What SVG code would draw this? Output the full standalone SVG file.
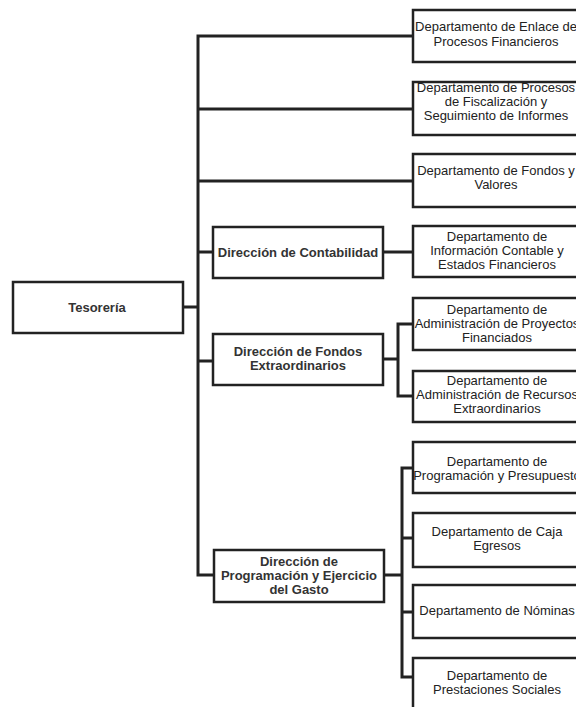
<svg xmlns="http://www.w3.org/2000/svg" width="576" height="707" viewBox="0 0 576 707">
<style>
.box{fill:#fff;stroke:#222;stroke-width:2.5}
.ln{fill:none;stroke:#222;stroke-width:3;stroke-linejoin:miter;stroke-linecap:square}
.t{font-family:"Liberation Sans",Arial,sans-serif;font-size:13px;fill:#222;text-anchor:middle}
.b{font-family:"Liberation Sans",Arial,sans-serif;font-size:13px;font-weight:bold;fill:#333;text-anchor:middle}
</style>
<rect width="576" height="707" fill="#fff"/>
<g id="connectors">
<path class="ln" d="M183 307H198M198 36V575M198 36H413M198 109H413M198 181H413M198 252H213M198 361H213M198 575H214"/>
<path class="ln" d="M382 252H413"/>
<path class="ln" d="M383 359H398M398 324V396M398 324H413M398 396H413"/>
<path class="ln" d="M384 575H402M402 468V677M402 468H413M402 538H413M402 612H413M402 677H413"/>
</g>
<g id="tesoreria"><rect class="box" x="13" y="282" width="170" height="51"/><text class="b" x="97" y="311.5">Tesorería</text></g>
<g id="dir-contabilidad"><rect class="box" x="213" y="227" width="170" height="51"/><text class="b" x="298" y="256.5">Dirección de Contabilidad</text></g>
<g id="dir-fondos"><rect class="box" x="213" y="334" width="170" height="51"/><text class="b" x="298" y="356">Dirección de Fondos</text><text class="b" x="298" y="370">Extraordinarios</text></g>
<g id="dir-programacion"><rect class="box" x="214" y="550" width="170" height="52"/><text class="b" x="299" y="566">Dirección de</text><text class="b" x="299" y="580">Programación y Ejercicio</text><text class="b" x="299" y="594">del Gasto</text></g>
<g id="d-enlace"><rect class="box" x="413" y="10" width="170" height="52"/><text class="t" x="496" y="31">Departamento de Enlace de</text><text class="t" x="496" y="46">Procesos Financieros</text></g>
<g id="d-fiscalizacion"><rect class="box" x="413" y="82" width="170" height="53"/><text class="t" x="496" y="92">Departamento de Procesos</text><text class="t" x="496" y="106">de Fiscalización y</text><text class="t" x="496" y="120">Seguimiento de Informes</text></g>
<g id="d-fondos-valores"><rect class="box" x="413" y="154" width="170" height="53"/><text class="t" x="496" y="175">Departamento de Fondos y</text><text class="t" x="496" y="189">Valores</text></g>
<g id="d-info-contable"><rect class="box" x="413" y="226" width="170" height="51"/><text class="t" x="497" y="241">Departamento de</text><text class="t" x="497" y="255">Información Contable y</text><text class="t" x="497" y="269">Estados Financieros</text></g>
<g id="d-proyectos"><rect class="box" x="413" y="298" width="170" height="52"/><text class="t" x="497" y="314">Departamento de</text><text class="t" x="497" y="328">Administración de Proyectos</text><text class="t" x="497" y="342">Financiados</text></g>
<g id="d-recursos"><rect class="box" x="413" y="371" width="170" height="51"/><text class="t" x="497" y="385">Departamento de</text><text class="t" x="497" y="399">Administración de Recursos</text><text class="t" x="497" y="413">Extraordinarios</text></g>
<g id="d-presupuesto"><rect class="box" x="413" y="442" width="170" height="51"/><text class="t" x="497" y="466">Departamento de</text><text class="t" x="497" y="480">Programación y Presupuesto</text></g>
<g id="d-caja"><rect class="box" x="413" y="513" width="170" height="54"/><text class="t" x="497" y="536">Departamento de Caja</text><text class="t" x="497" y="550">Egresos</text></g>
<g id="d-nominas"><rect class="box" x="413" y="585" width="170" height="53"/><text class="t" x="497" y="615">Departamento de Nóminas</text></g>
<g id="d-prestaciones"><rect class="box" x="413" y="658" width="170" height="60"/><text class="t" x="497" y="680">Departamento de</text><text class="t" x="497" y="694">Prestaciones Sociales</text></g>
</svg>
